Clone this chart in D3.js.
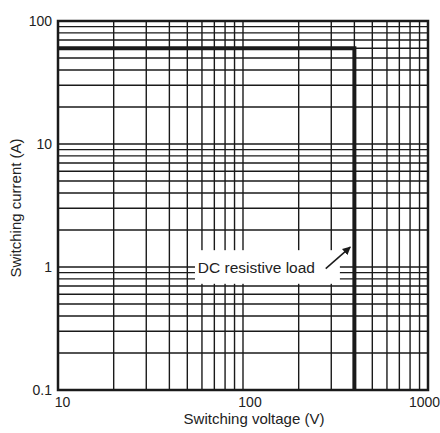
<!DOCTYPE html>
<html>
<head>
<meta charset="utf-8">
<script src="https://cdn.jsdelivr.net/npm/d3@7"></script>
<style>
  body { margin: 0; background: #fff; }
  text { font-family: "Liberation Sans", Arial, sans-serif; fill: #222; }
</style>
</head>
<body>
<div id="container"></div>
<script>
// values
var xTickLabels = [10, 100, 1000];
var yTickLabels = [0.1, 1, 10, 100];
var xGrid = [20, 30, 40, 50, 60, 70, 80, 90, 100, 200, 300, 400, 500, 600, 700, 800, 900];
var yGrid = [0.2, 0.3, 0.4, 0.5, 0.6, 0.7, 0.8, 0.9, 1, 2, 3, 4, 5, 6, 7, 8, 9, 10, 20, 30, 40, 50, 60, 70, 80, 90];
var loadVoltage = [10, 400, 400];
var loadCurrent = [60, 60, 0.1];

var width = 440, height = 433;
var margin = { top: 21, right: 12, bottom: 43, left: 58 };

var svg = d3.select("#container").append("svg")
  .attr("width", width).attr("height", height);

var x = d3.scaleLog().domain([10, 1000]).range([margin.left, width - margin.right]);
var y = d3.scaleLog().domain([0.1, 100]).range([height - margin.bottom, margin.top]);

var g = svg.append("g");

// grid
g.selectAll(".vgrid").data(xGrid).enter().append("line")
  .attr("x1", function (d) { return x(d); }).attr("x2", function (d) { return x(d); })
  .attr("y1", y(0.1)).attr("y2", y(100))
  .attr("stroke", "#1a1a1a").attr("stroke-width", 1.4);

g.selectAll(".hgrid").data(yGrid).enter().append("line")
  .attr("y1", function (d) { return y(d); }).attr("y2", function (d) { return y(d); })
  .attr("x1", x(10)).attr("x2", x(1000))
  .attr("stroke", "#1a1a1a").attr("stroke-width", 1.4);

// load curve
var line = d3.line()
  .x(function (d) { return x(d[0]); })
  .y(function (d) { return y(d[1]); });

g.append("path")
  .datum(d3.zip(loadVoltage, loadCurrent))
  .attr("d", line)
  .attr("fill", "none").attr("stroke", "#1a1a1a").attr("stroke-width", 4);

// frame
g.append("rect")
  .attr("x", x(10)).attr("y", y(100))
  .attr("width", x(1000) - x(10)).attr("height", y(0.1) - y(100))
  .attr("fill", "none").attr("stroke", "#1a1a1a").attr("stroke-width", 2.5);

// annotation
var ann = g.append("g");
ann.append("rect")
  .attr("x", x(55)).attr("y", y(1.37))
  .attr("width", x(334) - x(55)).attr("height", y(0.73) - y(1.37))
  .attr("fill", "#fff");
ann.append("text")
  .attr("x", x(57)).attr("y", y(1) + 6)
  .attr("font-size", 15.5)
  .text("DC resistive load");

svg.append("defs").append("marker")
  .attr("id", "arrow").attr("viewBox", "0 0 10 10")
  .attr("refX", 9).attr("refY", 5)
  .attr("markerWidth", 5.5).attr("markerHeight", 5.5)
  .attr("orient", "auto")
  .append("path").attr("d", "M0,0L10,5L0,10Z").attr("fill", "#1a1a1a");

ann.append("line")
  .attr("x1", x(280)).attr("y1", y(0.97))
  .attr("x2", x(380)).attr("y2", y(1.45))
  .attr("stroke", "#1a1a1a").attr("stroke-width", 1.5)
  .attr("marker-end", "url(#arrow)");

// axes labels
svg.selectAll(".xlab").data(xTickLabels).enter().append("text")
  .attr("x", function (d, i) { return x(d) + [4.5, 7, -3.5][i]; })
  .attr("y", y(0.1) + 17)
  .attr("text-anchor", "middle").attr("font-size", 14)
  .text(function (d) { return d; });

svg.selectAll(".ylab").data(yTickLabels).enter().append("text")
  .attr("x", margin.left - 6)
  .attr("y", function (d) { return y(d); })
  .attr("dy", "0.35em")
  .attr("text-anchor", "end").attr("font-size", 14)
  .text(function (d) { return d; });

svg.append("text")
  .attr("x", 254).attr("y", 424)
  .attr("text-anchor", "middle").attr("font-size", 15)
  .text("Switching voltage (V)");

svg.append("text")
  .attr("transform", "translate(21,208) rotate(-90)")
  .attr("text-anchor", "middle").attr("font-size", 15)
  .text("Switching current (A)");
</script>
</body>
</html>
